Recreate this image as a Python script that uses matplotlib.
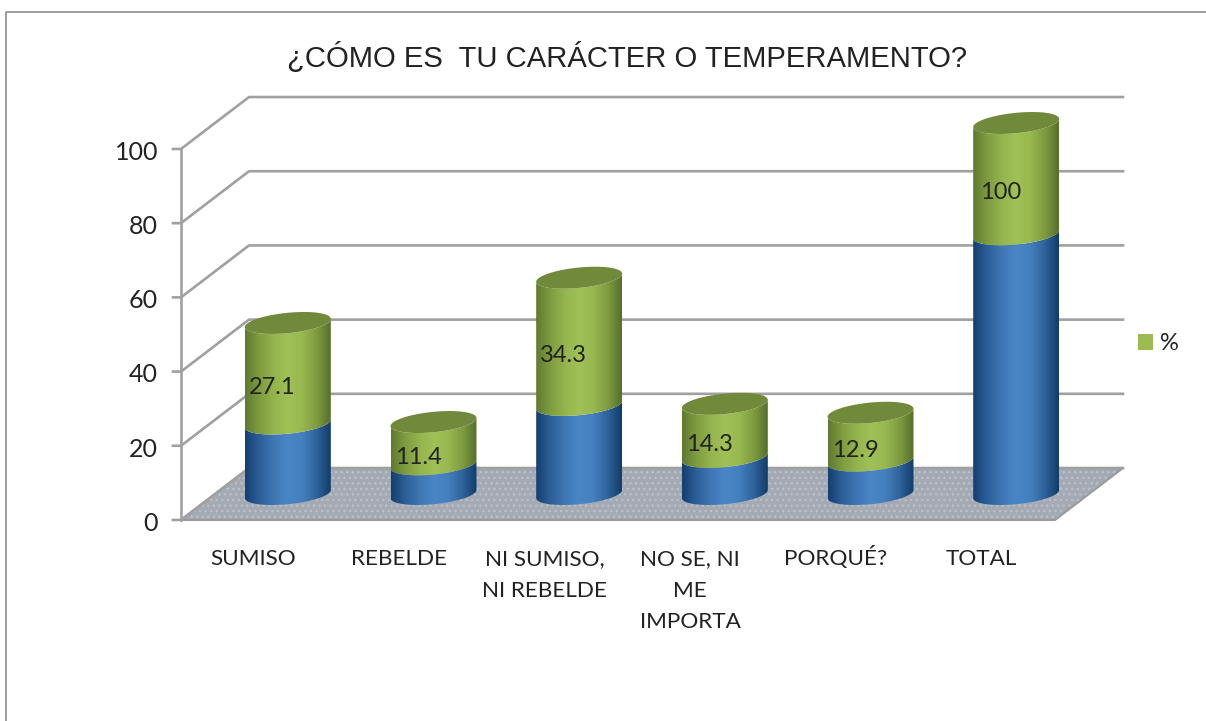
import numpy as np
import matplotlib
matplotlib.use("Agg")
import matplotlib.pyplot as plt
from matplotlib.colors import LinearSegmentedColormap
from matplotlib.lines import Line2D
from matplotlib.patches import Patch, Polygon

categorias = ["SUMISO", "REBELDE", "NI SUMISO,\nNI REBELDE", "NO SE, NI\nME\nIMPORTA", "PORQUÉ?", "TOTAL"]
frecuencia = [19, 8, 24, 10, 9, 70]
porcentaje = [27.1, 11.4, 34.3, 14.3, 12.9, 100]
etiquetas = ["27.1", "11.4", "34.3", "14.3", "12.9", "100"]
ticks_y = [0, 20, 40, 60, 80, 100]
titulo = "¿CÓMO ES  TU CARÁCTER O TEMPERAMENTO?"

W, H = 1206, 721
FONT = "Lato"
GRIS = "#a0a0a0"
TEXTO = "#222222"

# la profundidad falsa del grafico 3D, en unidades de datos
DX = 0.2334
DY = 7.0
ANCHO = 0.295
ALTO = 2.75
TILT = 1.1

azul = LinearSegmentedColormap.from_list("azul", ["#143f6e", "#2c5f99", "#3f76b4", "#4a86c6", "#4480bd", "#2f639c", "#103c68"])
verde = LinearSegmentedColormap.from_list("verde", ["#5f7a30", "#7f9c40", "#94b44e", "#a0c156", "#98b850", "#7f9c40", "#566f2b"])
grad = np.linspace(0, 1, 256).reshape(1, -1)


def arco(x, v):
    t = np.linspace(np.pi, 2 * np.pi, 60)
    return np.column_stack([x + ANCHO * np.cos(t), v + ALTO * np.sin(t) + TILT * np.cos(t)])


def segmento(ax, x, v0, v1, cmap):
    pts = np.vstack([arco(x, v0), arco(x, v1)[::-1]])
    ext = (x - ANCHO, x + ANCHO, v0 - ALTO - TILT, v1 + ALTO + TILT)
    im = ax.imshow(grad, cmap=cmap, extent=ext, aspect="auto", zorder=4)
    im.set_clip_path(Polygon(pts, transform=ax.transData))
    im.set_clip_box(fig.bbox)


def tapa(ax, x, v):
    t = np.linspace(0, 2 * np.pi, 120)
    pts = np.column_stack([x + ANCHO * np.cos(t), v + ALTO * np.sin(t) + TILT * np.cos(t)])
    ax.add_patch(Polygon(pts, facecolor="#71893a", edgecolor="none", zorder=5, clip_on=False))


fig = plt.figure(figsize=(W / 100, H / 100), dpi=100, facecolor="white")
ax = fig.add_axes([215 / W, 1 - 494 / H, 874 / W, 371 / H])
ax.axis("off")

# suelo
suelo = [(-DX, -DY), (6 - DX, -DY), (6 + DX, DY), (DX, DY)]
plt.rcParams["hatch.linewidth"] = 1.0
ax.add_patch(Polygon(suelo, facecolor="#a4aab3", edgecolor="#bcc0c7", hatch="...", lw=0, zorder=1, clip_on=False))
ax.add_patch(Polygon(suelo, fill=False, edgecolor="#9a9a9a", lw=1.5, zorder=1.5, clip_on=False))

# rejilla de las paredes y eje
for v in ticks_y:
    ax.plot([-DX - 0.055, -DX, DX, 6 + DX], [v - DY, v - DY, v + DY, v + DY], color=GRIS, lw=1.9, zorder=2, clip_on=False)
    ax.text(-DX - 0.158, v - DY - 0.9, str(v), ha="right", va="center", fontsize=18, family=FONT, color=TEXTO)
ax.plot([-DX, -DX], [-DY, 100 - DY], color=GRIS, lw=1.9, zorder=2, clip_on=False)

# cilindros, el total se corta en el maximo del eje
for i in range(len(categorias)):
    x = i + 0.5
    tope = min(frecuencia[i] + porcentaje[i], 100)
    segmento(ax, x, 0, frecuencia[i], azul)
    segmento(ax, x, frecuencia[i], tope, verde)
    tapa(ax, x, tope)
    ax.text(x - 0.105, (frecuencia[i] + tope) / 2 - 3.8, etiquetas[i], ha="center", va="center",
            fontsize=17, family=FONT, color=TEXTO, zorder=6)
    for j, linea in enumerate(categorias[i].split("\n")):
        ax.text(x - DX - 0.005, -19.2 - j * 8.5, linea, ha="center", va="baseline", fontsize=16.2, family=FONT,
                color=TEXTO, clip_on=False)

ax.set_xlim(0, 6)
ax.set_ylim(0, 100)

fig.text(627.5 / W, 1 - 57 / H, titulo, ha="center", va="center", fontsize=21.05, family="Liberation Sans", color=TEXTO)

fig.legend(handles=[Patch(facecolor="#9dbb50", edgecolor="none", label="%")], loc="center left",
           bbox_to_anchor=(1117 / W, 1 - 344 / H), frameon=False, handlelength=0.64, handleheight=0.64,
           handletextpad=0.3, prop={"family": FONT, "size": 17}, labelcolor=TEXTO)

# marco de la imagen
fig.add_artist(Line2D([6 / W, 6 / W, 1], [0, 1 - 12 / H, 1 - 12 / H], color="#8c8c8c", lw=1.2))

fig.savefig("out.png", dpi=100)
